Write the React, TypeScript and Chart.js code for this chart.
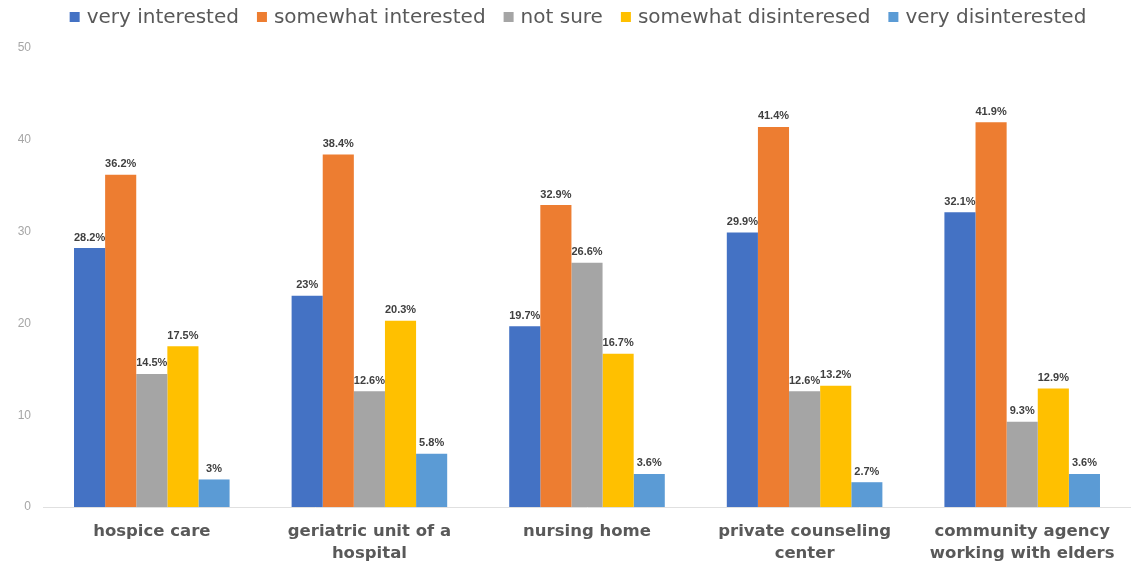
import React, { useEffect, useRef } from "react";
import { Chart, registerables } from "chart.js";

Chart.register(...registerables);

const categories: (string | string[])[] = [
  "hospice care",
  ["geriatric unit of a", "hospital"],
  "nursing home",
  ["private counseling", "center"],
  ["community agency", "working with elders"],
];

const seriesNames = [
  "very interested",
  "somewhat interested",
  "not sure",
  "somewhat disinteresed",
  "very disinterested",
];

const veryInterested = [28.2, 23, 19.7, 29.9, 32.1];
const somewhatInterested = [36.2, 38.4, 32.9, 41.4, 41.9];
const notSure = [14.5, 12.6, 26.6, 12.6, 9.3];
const somewhatDisinterested = [17.5, 20.3, 16.7, 13.2, 12.9];
const veryDisinterested = [3, 5.8, 3.6, 2.7, 3.6];

const colors = ["#4472C4", "#ED7D31", "#A5A5A5", "#FFC000", "#5B9BD5"];

const yTicks = [0, 10, 20, 30, 40, 50];

const FONT = "'DejaVu Sans', Verdana, sans-serif";

const labelPlugin = {
  id: "barLabels",
  afterDatasetsDraw(chart: any) {
    const ctx = chart.ctx;
    ctx.save();
    ctx.font = "bold 11px 'Liberation Sans', Arial, sans-serif";
    ctx.fillStyle = "#404040";
    ctx.textAlign = "center";
    ctx.textBaseline = "bottom";
    chart.data.datasets.forEach((ds: any, i: number) => {
      const meta = chart.getDatasetMeta(i);
      meta.data.forEach((bar: any, j: number) => {
        ctx.fillText(ds.data[j] + "%", bar.x, bar.y - 5);
      });
    });
    ctx.restore();
  },
};

const customLegend = {
  id: "customLegend",
  afterDraw(chart: any) {
    const ctx = chart.ctx;
    ctx.save();
    ctx.font = "20px " + FONT;
    ctx.textBaseline = "middle";
    ctx.textAlign = "left";
    const box = 10;
    const gapBoxText = 7;
    const gapItems = 18;
    const items = chart.data.datasets.map((ds: any) => ({
      label: ds.label,
      color: ds.backgroundColor,
      w: ctx.measureText(ds.label).width,
    }));
    const total =
      items.reduce((s: number, it: any) => s + box + gapBoxText + it.w, 0) +
      gapItems * (items.length - 1);
    let x = 578 - total / 2;
    const y = 17;
    items.forEach((it: any) => {
      ctx.fillStyle = it.color;
      ctx.fillRect(x, y - box / 2, box, box);
      x += box + gapBoxText;
      ctx.fillStyle = "#595959";
      ctx.fillText(it.label, x, y + 1);
      x += it.w + gapItems;
    });
    ctx.restore();
  },
};

export default function App() {
  const ref = useRef<HTMLCanvasElement | null>(null);
  useEffect(() => {
    if (!ref.current) return;
    const allSeries = [
      veryInterested,
      somewhatInterested,
      notSure,
      somewhatDisinterested,
      veryDisinterested,
    ];
    const chart = new Chart(ref.current, {
      type: "bar",
      data: {
        labels: categories as any,
        datasets: allSeries.map((d, i) => ({
          label: seriesNames[i],
          data: d,
          backgroundColor: colors[i],
          borderWidth: 0,
          categoryPercentage: 0.715,
          barPercentage: 1,
        })),
      },
      options: {
        animation: false,
        responsive: false,
        maintainAspectRatio: false,
        layout: { padding: { top: 48, right: 0, left: 0, bottom: 0 } },
        plugins: {
          tooltip: { enabled: false },
          legend: { display: false },
        },
        scales: {
          x: {
            grid: { display: false, drawTicks: false },
            border: { display: true, color: "#E0E0E0", width: 1 },
            ticks: {
              color: "#595959",
              padding: 14,
              maxRotation: 0,
              autoSkip: false,
              font: { size: 16.5, weight: "bold", family: FONT, lineHeight: 1.33 },
            },
            afterFit: (scale: any) => {
              scale.height = 56;
            },
          },
          y: {
            min: 0,
            max: 50,
            afterBuildTicks: (scale: any) => {
              scale.ticks = yTicks.map((v) => ({ value: v }));
            },
            grid: { display: false, drawTicks: false },
            border: { display: false },
            ticks: {
              color: "#A6A6A6",
              padding: 12,
              font: { size: 12, family: "'Liberation Sans', Arial, sans-serif" },
            },
            afterFit: (scale: any) => {
              scale.width = 43;
            },
          },
        },
      },
      plugins: [labelPlugin, customLegend],
    });
    return () => chart.destroy();
  }, []);
  return (
    <div style={{ position: "absolute", left: 0, top: 0, width: 1131, height: 563, background: "#fff" }}>
      <canvas ref={ref} width={1131} height={563} style={{ display: "block" }} />
    </div>
  );
}
